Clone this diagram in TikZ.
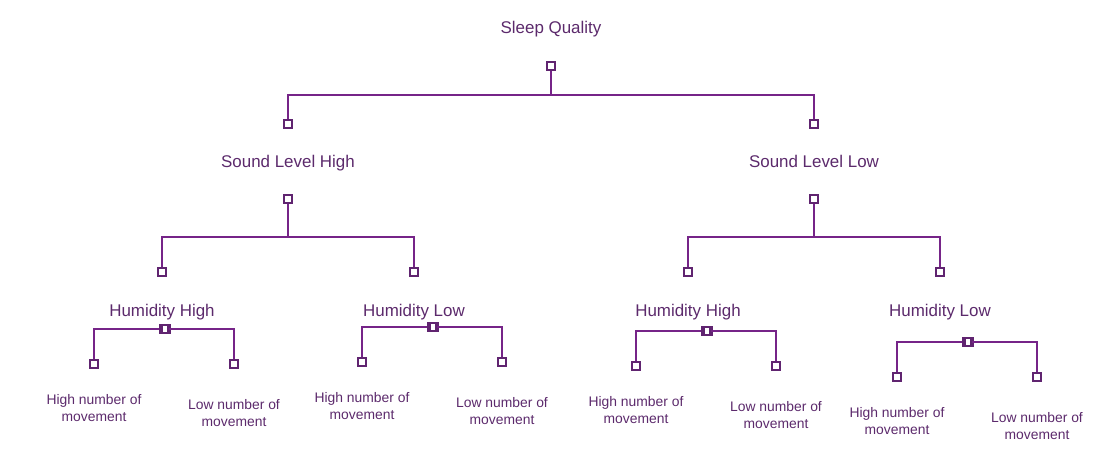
\documentclass[tikz,border=0pt]{standalone}
\usepackage{fontspec}
\setmainfont{Liberation Sans}
\definecolor{treeline}{RGB}{118,36,136}
\definecolor{treebox}{RGB}{96,36,112}
\definecolor{treetext}{RGB}{92,42,108}
\tikzset{
  knot/.style={draw=treebox, fill=white, line width=0.9pt, minimum size=6pt, inner sep=0pt},
  level/.style={text=treetext, font=\fontsize{12.7}{15}\selectfont, text height=1.6ex, text depth=0.45ex},
  leaf/.style={text=treetext, font=\fontsize{10.4}{13}\selectfont, align=center},
  wire/.style={treeline, line width=0.8pt}
}
\begin{document}
\begin{tikzpicture}[x=0.75pt, y=-0.75pt]
  \useasboundingbox (0,0) rectangle (1111,462);

  % root
  \node[level] (sleep) at (551,29.5) {Sleep Quality};
  \node[knot] (k0) at (551,66) {};
  \coordinate (b0) at (551,95);
  \node[knot] (k1) at (288,124) {};
  \node[knot] (k2) at (814,124) {};
  \draw[wire] (k0.south) -- (b0);
  \draw[wire] (k1.north) |- (b0) -| (k2.north);

  % sound level
  \node[level] (sndhigh) at (288,163.5) {Sound Level High};
  \node[level] (sndlow) at (814,163.5) {Sound Level Low};
  \foreach \s/\x in {1/288, 2/814} {
    \node[knot] (s\s) at (\x,199) {};
    \coordinate (c\s) at (\x,237);
    \node[knot] (s\s a) at (\x-126,272) {};
    \node[knot] (s\s b) at (\x+126,272) {};
    \draw[wire] (s\s.south) -- (c\s);
    \draw[wire] (s\s a.north) |- (c\s) -| (s\s b.north);
  };

  % humidity and movement
  \foreach \h/\lx/\name/\cx/\by in {1/162/High/164/329, 2/414/Low/432/327, 3/688/High/706/331, 4/940/Low/967/342} {
    \node[level] (hum\h) at (\lx,312.5) {Humidity \name};
    \node[knot] (m\h) at (\cx,\by) {};
    \node[knot, fill=none] at (\cx+2,\by) {};
    \node[knot] (m\h a) at (\cx-70,\by+35) {};
    \node[knot] (m\h b) at (\cx+70,\by+35) {};
    \draw[wire] (m\h a.north) |- (m\h.west);
    \draw[wire] (m\h.east) -| (m\h b.north);
    \node[leaf] (mv\h a) at (\cx-70,\by+79) {High number of\\movement};
    \node[leaf] (mv\h b) at (\cx+70,\by+84) {Low number of\\movement};
  };
\end{tikzpicture}
\end{document}
